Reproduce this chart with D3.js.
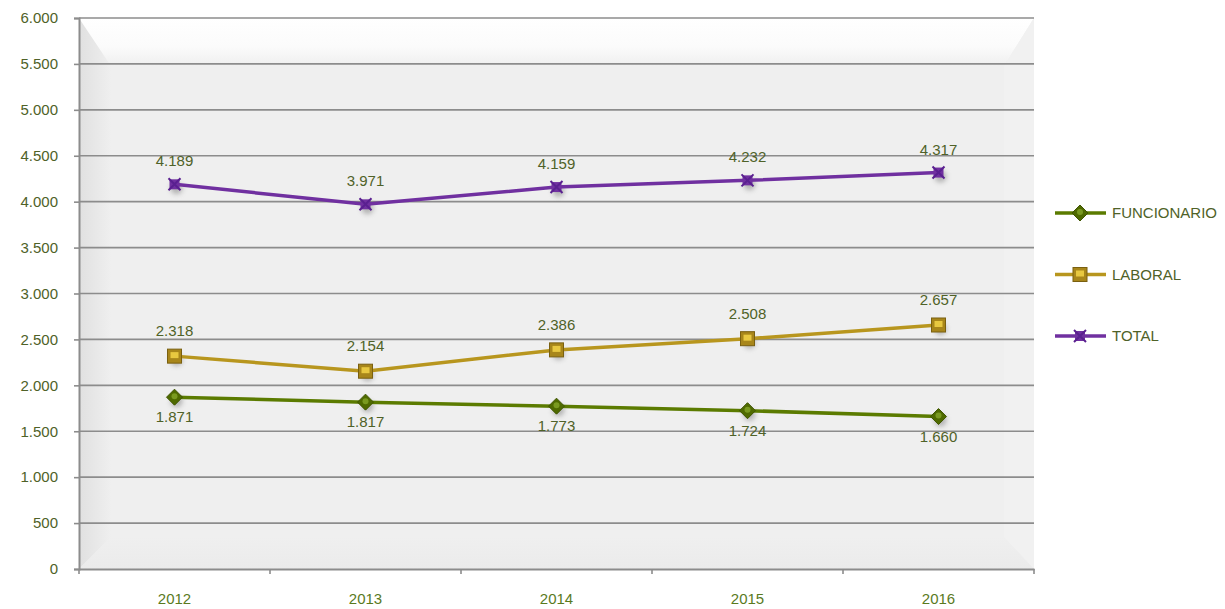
<!DOCTYPE html>
<html>
<head>
<meta charset="utf-8">
<script src="https://cdn.jsdelivr.net/npm/d3@7"></script>
<style>
  body { margin: 0; background: #fff; }
  svg { font-family: "Liberation Sans", Arial, sans-serif; }
</style>
</head>
<body>
<svg id="chart" width="1225" height="609"></svg>
<script>
var years = ["2012", "2013", "2014", "2015", "2016"];
var funcionario = [1871, 1817, 1773, 1724, 1660];
var laboral = [2318, 2154, 2386, 2508, 2657];
var total = [4189, 3971, 4159, 4232, 4317];
var yTicks = [0, 500, 1000, 1500, 2000, 2500, 3000, 3500, 4000, 4500, 5000, 5500, 6000];

var svg = d3.select("#chart");
var pLeft = 79, pRight = 1034, pTop = 18, pBottom = 569;

var x = d3.scaleBand().domain(years).range([pLeft, pRight]);
var y = d3.scaleLinear().domain([0, 6000]).range([pBottom, pTop]);

var fmt = function(v) { return d3.format(",")(v).replace(/,/g, "."); };

var defs = svg.append("defs");
var gTop = defs.append("linearGradient").attr("id", "gTop").attr("x1", 0).attr("y1", 0).attr("x2", 0).attr("y2", 1);
gTop.append("stop").attr("offset", 0).attr("stop-color", "#ffffff");
gTop.append("stop").attr("offset", 0.6).attr("stop-color", "#fbfbfb");
gTop.append("stop").attr("offset", 1).attr("stop-color", "#efefef");
var gLeft = defs.append("linearGradient").attr("id", "gLeft").attr("x1", 0).attr("y1", 0).attr("x2", 1).attr("y2", 0);
gLeft.append("stop").attr("offset", 0).attr("stop-color", "#e0e0e0");
gLeft.append("stop").attr("offset", 1).attr("stop-color", "#efefef");
var gBot = defs.append("linearGradient").attr("id", "gBot").attr("x1", 0).attr("y1", 0).attr("x2", 0).attr("y2", 1);
gBot.append("stop").attr("offset", 0).attr("stop-color", "#efefef");
gBot.append("stop").attr("offset", 1).attr("stop-color", "#ebebeb");
var blur = defs.append("filter").attr("id", "shadow").attr("x", "-100%").attr("y", "-100%").attr("width", "300%").attr("height", "300%");
blur.append("feGaussianBlur").attr("stdDeviation", 2.5);

// plot background with bevel
svg.append("rect").attr("x", pLeft).attr("y", pTop).attr("width", pRight - pLeft).attr("height", pBottom - pTop).attr("fill", "#efefef");
svg.append("polygon")
  .attr("points", [[pLeft, pTop], [pLeft + 32, pTop + 48], [pLeft + 32, pBottom - 32], [pLeft, pBottom]].join(" "))
  .attr("fill", "url(#gLeft)");
svg.append("polygon")
  .attr("points", [[pLeft, pTop], [pRight, pTop], [pRight - 30, pTop + 48], [pLeft + 32, pTop + 48]].join(" "))
  .attr("fill", "url(#gTop)");
svg.append("polygon")
  .attr("points", [[pRight, pTop], [pRight, pBottom], [pRight - 30, pBottom - 32], [pRight - 30, pTop + 48]].join(" "))
  .attr("fill", "#f1f1f1");
svg.append("polygon")
  .attr("points", [[pLeft, pBottom], [pRight, pBottom], [pRight - 30, pBottom - 32], [pLeft + 32, pBottom - 32]].join(" "))
  .attr("fill", "url(#gBot)");

// gridlines
svg.append("g").selectAll("line").data(yTicks.slice(1)).enter().append("line")
  .attr("x1", pLeft).attr("x2", pRight)
  .attr("y1", function(d) { return y(d); }).attr("y2", function(d) { return y(d); })
  .attr("stroke", "#8c8c8c").attr("stroke-width", 1.6);

// y axis
var yAxis = svg.append("g").attr("transform", "translate(" + pLeft + ",0)")
  .call(d3.axisLeft(y).tickValues(yTicks).tickFormat(fmt).tickSize(5).tickPadding(16));
yAxis.select(".domain").attr("stroke", "#8c8c8c").attr("stroke-width", 2);
yAxis.selectAll(".tick line").attr("stroke", "#8c8c8c").attr("stroke-width", 1.6);
yAxis.selectAll("text").attr("fill", "#4f6228").attr("font-size", "15px");

// x axis
var xAxis = svg.append("g").attr("transform", "translate(0," + pBottom + ")")
  .call(d3.axisBottom(x).tickSize(0).tickPadding(24));
xAxis.select(".domain").attr("stroke", "#8c8c8c").attr("stroke-width", 2);
xAxis.selectAll("text").attr("fill", "#5a7a1e").attr("font-size", "15px");
svg.append("g").selectAll("line").data(d3.range(years.length + 1)).enter().append("line")
  .attr("x1", function(i) { return pLeft + i * x.step(); }).attr("x2", function(i) { return pLeft + i * x.step(); })
  .attr("y1", pBottom).attr("y2", pBottom + 5)
  .attr("stroke", "#8c8c8c").attr("stroke-width", 1.6);

var cx = function(d, i) { return x(years[i]) + x.bandwidth() / 2; };

var series = [
  { name: "FUNCIONARIO", values: funcionario, color: "#5b7b00", marker: "diamond", labelDy: 25 },
  { name: "LABORAL", values: laboral, color: "#b8961e", marker: "square", labelDy: -20 },
  { name: "TOTAL", values: total, color: "#7030a0", marker: "total", labelDy: -18 }
];

function drawMarker(g, s, px, py) {
  if (s.marker === "diamond") {
    g.append("path").attr("d", "M" + px + "," + (py - 8) + "L" + (px + 8) + "," + py + "L" + px + "," + (py + 8) + "L" + (px - 8) + "," + py + "Z")
      .attr("fill", "#4f6a00").attr("stroke", "#3f5500").attr("stroke-width", 1);
    g.append("circle").attr("cx", px).attr("cy", py - 1).attr("r", 3).attr("fill", "#7a9a20");
  } else if (s.marker === "square") {
    g.append("rect").attr("x", px - 7).attr("y", py - 7).attr("width", 14).attr("height", 14)
      .attr("fill", "#a8861a").attr("stroke", "#7a6010").attr("stroke-width", 1);
    g.append("rect").attr("x", px - 4).attr("y", py - 4).attr("width", 8).attr("height", 6).attr("fill", "#e8c840");
  } else {
    g.append("rect").attr("x", px - 5).attr("y", py - 5).attr("width", 10).attr("height", 10).attr("fill", "#7030a0");
    g.append("path").attr("d", "M" + (px - 6) + "," + (py - 6) + "L" + (px + 6) + "," + (py + 6) + "M" + (px + 6) + "," + (py - 6) + "L" + (px - 6) + "," + (py + 6))
      .attr("stroke", "#5a2090").attr("stroke-width", 2);
  }
}

var line = d3.line().x(cx).y(function(d) { return y(d); });

series.forEach(function(s) {
  var g = svg.append("g");
  // shadows
  g.selectAll(".sh").data(s.values).enter().append("circle")
    .attr("cx", function(d, i) { return cx(d, i) + 2; }).attr("cy", function(d) { return y(d) + 4; })
    .attr("r", 6).attr("fill", "#777").attr("opacity", 0.5).attr("filter", "url(#shadow)");
  g.append("path").datum(s.values).attr("d", line)
    .attr("fill", "none").attr("stroke", s.color).attr("stroke-width", 3.5);
  s.values.forEach(function(d, i) { drawMarker(g, s, cx(d, i), y(d)); });
  g.selectAll(".lbl").data(s.values).enter().append("text")
    .attr("x", cx).attr("y", function(d) { return y(d) + s.labelDy; })
    .attr("text-anchor", "middle").attr("fill", "#4f6228").attr("font-size", "15px")
    .text(fmt);
});

// legend
var legend = svg.append("g");
series.forEach(function(s, i) {
  var ly = 213 + i * 61.5;
  legend.append("line").attr("x1", 1055).attr("x2", 1106).attr("y1", ly).attr("y2", ly)
    .attr("stroke", s.color).attr("stroke-width", 3.5);
  drawMarker(legend, s, 1080, ly);
  legend.append("text").attr("x", 1112).attr("y", ly + 5).attr("fill", "#4f6228").attr("font-size", "15px").text(s.name);
});
</script>
</body>
</html>
